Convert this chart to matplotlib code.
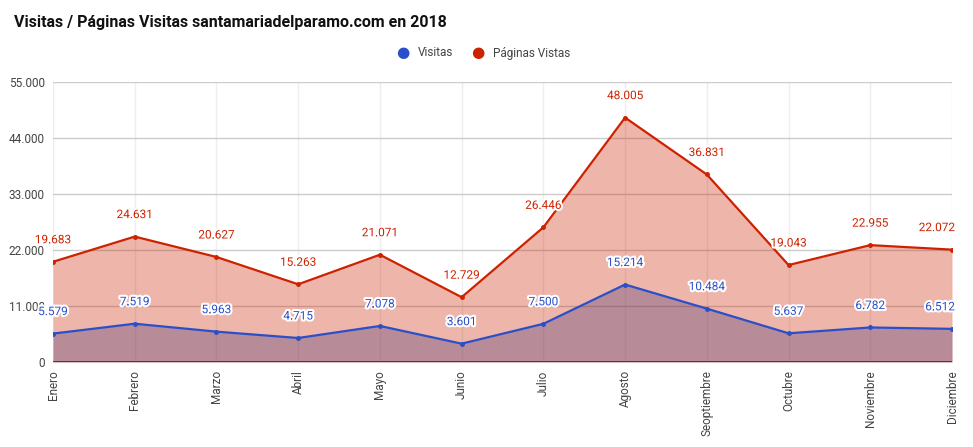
import matplotlib
matplotlib.use("Agg")
import matplotlib.pyplot as plt
import matplotlib.patheffects as pe
from matplotlib.ticker import FuncFormatter

months = ["Enero", "Febrero", "Marzo", "Abril", "Mayo", "Junio", "Julio",
          "Agosto", "Seoptiembre", "Octubre", "Noviembre", "Diciembre"]
visitas = [5579, 7519, 5963, 4715, 7078, 3601, 7500, 15214, 10484, 5637, 6782, 6512]
paginas = [19683, 24631, 20627, 15263, 21071, 12729, 26446, 48005, 36831, 19043, 22955, 22072]
yticks = [0, 11000, 22000, 33000, 44000, 55000]

BLUE = "#2a4fc9"
RED = "#cc2200"

plt.rcParams['font.family'] = ['Roboto', 'DejaVu Sans']

fig = plt.figure(figsize=(9.73, 4.47), dpi=100)
ax = fig.add_axes([53/973, 1-362/447, (952-53)/973, (362-82)/447])

x = list(range(len(months)))

def fmt(v):
    return f"{v:,}".replace(",", ".")

ax.fill_between(x, paginas, 0, color=RED, alpha=0.33, lw=0, zorder=2)
ax.fill_between(x, visitas, 0, color="#3a2a6a", alpha=0.30, lw=0, zorder=3)
ax.plot(x, paginas, color=RED, lw=1.6, marker='o', ms=2.5, zorder=5)
ax.plot(x, visitas, color=BLUE, lw=1.6, marker='o', ms=2.5, zorder=5)

halo = [pe.withStroke(linewidth=3, foreground="white")]
n = len(x)
for i in x:
    for vals, col in ((paginas, RED), (visitas, BLUE)):
        ha = 'center'
        dx = 0
        if i == n - 1:
            ha = 'right'
            dx = 3
        ax.annotate(fmt(vals[i]), (i, vals[i]), xytext=(dx, 22), textcoords='offset pixels',
                    ha=ha, va='center', color=col, fontsize=8.5, zorder=6,
                    path_effects=halo, annotation_clip=False)

ax.set_xlim(0, n - 1)
ax.set_ylim(0, 55000)
ax.set_yticks(yticks)
ax.yaxis.set_major_formatter(FuncFormatter(lambda v, p: fmt(int(v))))
ax.set_xticks(x)
ax.set_xticklabels(months, rotation=90, fontsize=8.5, color="#444444")
ax.tick_params(axis='y', labelsize=8.5, labelcolor="#444444", length=0, pad=6)
ax.tick_params(axis='x', length=0, pad=6)
ax.grid(axis='y', color="#cccccc", lw=1, zorder=1)
ax.grid(axis='x', color="#eeeeee", lw=1, zorder=1)
for s in ax.spines.values():
    s.set_visible(False)
ax.axhline(0, color="#333333", lw=1.2, zorder=4)

fig.text(14/973, 1-22/447, "Visitas / Páginas Visitas santamariadelparamo.com en 2018",
         fontsize=11.5, fontweight='bold', va='center', ha='left', color="#111111")

# legend
ly = 1 - 53/447
fig.text(403/973, ly, "●", color=BLUE, fontsize=11, va='center', ha='center')
fig.text(418/973, ly, "Visitas", color="#444444", fontsize=8.5, va='center', ha='left')
fig.text(478/973, ly, "●", color=RED, fontsize=11, va='center', ha='center')
fig.text(493/973, ly, "Páginas Vistas", color="#444444", fontsize=8.5, va='center', ha='left')

fig.savefig("out.png", dpi=100, facecolor="white")
